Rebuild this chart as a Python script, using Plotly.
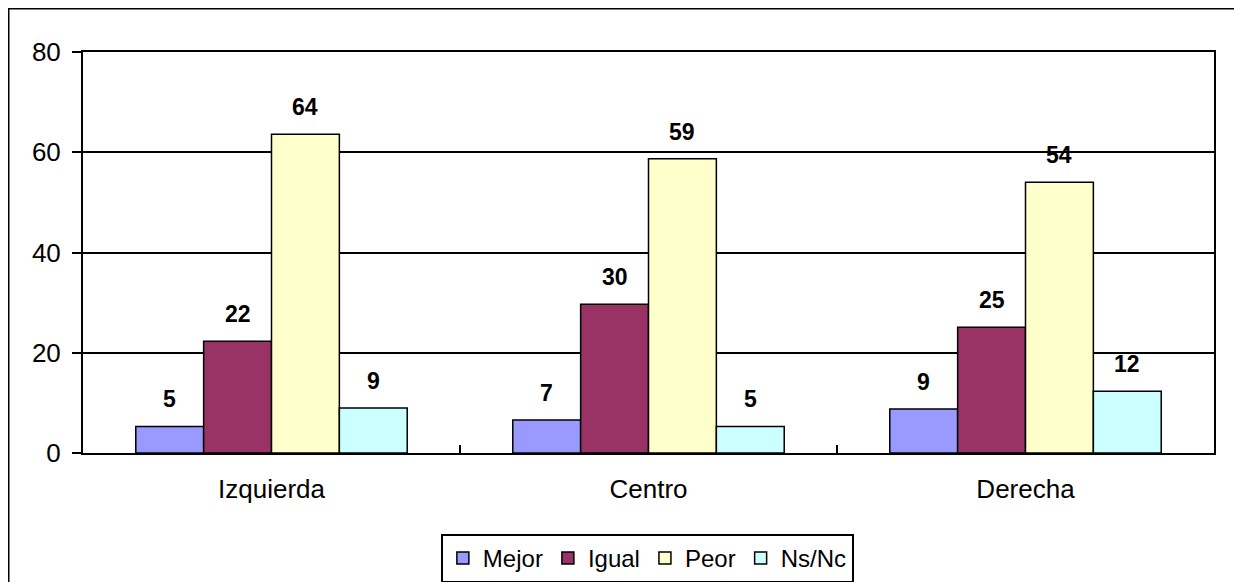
import plotly.graph_objects as go

categories = ["Izquierda", "Centro", "Derecha"]
series_names = ["Mejor", "Igual", "Peor", "Ns/Nc"]
mejor = [5.3, 6.6, 8.8]
igual = [22.3, 29.7, 25.1]
peor = [63.6, 58.7, 54.0]
nsnc = [9.0, 5.3, 12.3]
series_values = [mejor, igual, peor, nsnc]
colors = ["#9999FF", "#993366", "#FFFFCC", "#CCFFFF"]
y_ticks = [0, 20, 40, 60, 80]

# page body has an 8px margin; compensate
OFF = 8
W, H = 1242 - OFF, 582 - OFF
ML, MT = 83 - OFF, 52 - OFF
MR = W - (1214 - OFF)
MB = H - (453 - OFF)
BARGAP = 0.28
FONT = "Arial, Liberation Sans, sans-serif"

fig = go.Figure()
for name, vals, col in zip(series_names, series_values, colors):
    fig.add_trace(go.Bar(
        x=categories, y=vals, name=name,
        marker=dict(color=col, line=dict(color="black", width=1.5)),
        hoverinfo="skip",
    ))

plot_w = W - ML - MR
plot_h = H - MT - MB
cat_w = plot_w / len(categories)
bar_w = cat_w * (1 - BARGAP) / len(series_names)
annotations = []
for i, vals in enumerate(series_values):
    off = (i - (len(series_names) - 1) / 2) * bar_w
    for c, v in zip(categories, vals):
        annotations.append(dict(
            x=c, y=v, xref="x", yref="y", text=f"<b>{round(v)}</b>",
            showarrow=False, xshift=off, yshift=12, yanchor="bottom",
            font=dict(family=FONT, size=23, color="black"),
        ))

def px_to_paper_x(px):
    return (px - OFF - ML) / plot_w

def px_to_paper_y(py):
    return (H - MB - (py - OFF)) / plot_h

fig.update_layout(
    width=W, height=H,
    margin=dict(l=ML, r=MR, t=MT, b=MB, autoexpand=False),
    paper_bgcolor="white", plot_bgcolor="white",
    barmode="group", bargap=BARGAP, bargroupgap=0,
    font=dict(family=FONT, size=26, color="black"),
    annotations=annotations,
    showlegend=True,
    legend=dict(
        orientation="h", x=0.499, xanchor="center", y=px_to_paper_y(534), yanchor="top",
        bordercolor="black", borderwidth=2, bgcolor="white",
        font=dict(family=FONT, size=24, color="black"),
        itemwidth=30, tracegroupgap=0,
    ),
    xaxis=dict(
        showline=True, linecolor="black", linewidth=2, mirror=True,
        ticks="inside", ticklen=8, tickwidth=2, tickcolor="black",
        tickson="boundaries", showgrid=False, ticklabelstandoff=12,
        tickfont=dict(family=FONT, size=26),
    ),
    yaxis=dict(
        range=[0, 80], tickvals=y_ticks, showgrid=True, gridcolor="black", gridwidth=2,
        showline=True, linecolor="black", linewidth=2, mirror=True,
        ticks="outside", ticklen=9, tickwidth=2, tickcolor="black", ticklabelstandoff=6,
        tickfont=dict(family=FONT, size=26), zeroline=False,
    ),
    shapes=[dict(
        type="rect", xref="paper", yref="paper",
        x0=px_to_paper_x(8.5), x1=px_to_paper_x(1235),
        y0=px_to_paper_y(600), y1=px_to_paper_y(8.5),
        line=dict(color="black", width=2), fillcolor="rgba(0,0,0,0)", layer="below",
    )],
)

fig.write_html("out.html")
